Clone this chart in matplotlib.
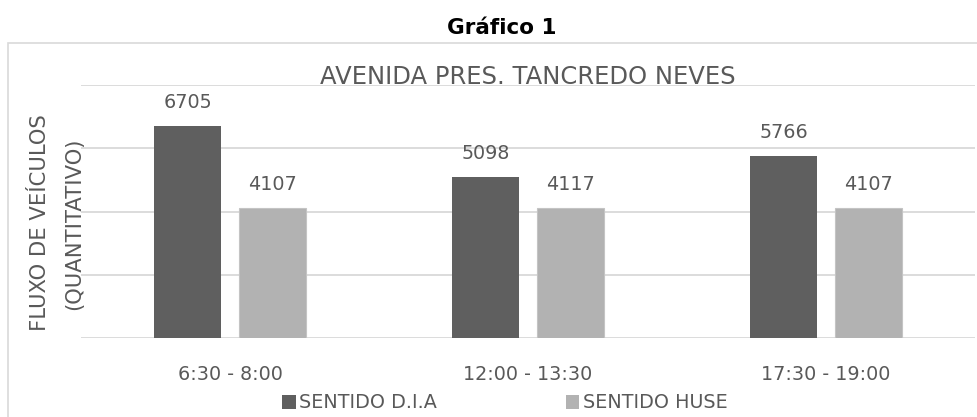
import matplotlib
matplotlib.use("Agg")
import matplotlib.pyplot as plt
import numpy as np
from matplotlib.patches import Rectangle, Patch

categories = ["6:30 - 8:00", "12:00 - 13:30", "17:30 - 19:00"]
series_names = ["SENTIDO D.I.A", "SENTIDO HUSE"]
dia_values = [6705, 5098, 5766]
huse_values = [4107, 4117, 4107]

plt.rcParams['font.family'] = ['DejaVu Sans']
TXT = '#595959'
DARK = '#5f5f5f'
LIGHT = '#b2b2b2'
GRID = '#d9d9d9'

W, H = 978, 417
fig = plt.figure(figsize=(W/100, H/100), dpi=100)

# chart border
fig.patches.append(Rectangle((8/W, -0.1), 1.2, (H-43)/H + 0.1, transform=fig.transFigure,
                             fill=False, edgecolor=GRID, linewidth=1.2))

ax = fig.add_axes([81/W, 1-338/H, (975-81)/W, (338-85)/H])
x = np.arange(len(categories))
bw = 0.223
off = 0.142
b1 = ax.bar(x - off, dia_values, bw, color=DARK, zorder=3)
b2 = ax.bar(x + off, huse_values, bw, color=LIGHT, edgecolor='#c4c4c4', linewidth=0.8, zorder=3)

for bars, vals in ((b1, dia_values), (b2, huse_values)):
    for r, v in zip(bars, vals):
        ax.annotate(str(v), (r.get_x() + r.get_width()/2, v), xytext=(0, 10),
                    textcoords='offset points', ha='center', va='bottom',
                    fontsize=13.8, color=TXT)

ax.set_xlim(-0.5, 2.5)
ax.set_ylim(0, 8000)
ax.set_yticks([0, 2000, 4000, 6000, 8000])
ax.yaxis.grid(True, color=GRID, linewidth=1.3, zorder=0)
ax.tick_params(axis='y', left=False, labelleft=False)
ax.tick_params(axis='x', bottom=False, labelsize=13.8, labelcolor=TXT, pad=16)
ax.set_xticks(x)
ax.set_xticklabels(categories)
for s in ax.spines.values():
    s.set_visible(False)

fig.text(502/W, 1-28/H, "Gráfico 1", ha='center', va='center', fontsize=15.5,
         fontweight='bold', color='black')
ax.set_title("AVENIDA PRES. TANCREDO NEVES", fontsize=17.5, color=TXT, pad=1)

fig.text(40/W, 1-223/H, "FLUXO DE VEÍCULOS", rotation=90, ha='center', va='center',
         fontsize=15.2, color=TXT)
fig.text(74/W, 1-224/H, "(QUANTITATIVO)", rotation=90, ha='center', va='center',
         fontsize=15.2, color=TXT)

handles = [Patch(facecolor=DARK), Patch(facecolor=LIGHT)]
fig.legend(handles, series_names, loc='center', bbox_to_anchor=(505/W, 1-403/H),
           ncol=2, frameon=False, fontsize=13.8, labelcolor=TXT,
           handlelength=0.7, handleheight=0.7, handletextpad=0.2, columnspacing=6.7)

fig.savefig("out.png", dpi=100)
